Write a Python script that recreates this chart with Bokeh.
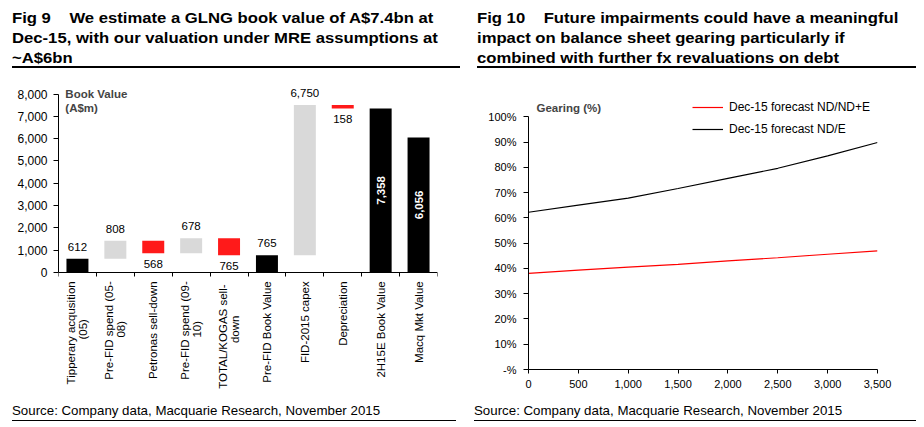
import numpy as np
from bokeh.plotting import figure
from bokeh.models import (Range1d, FixedTicker, Label, ColumnDataSource, Div,
                          Legend, LegendItem, NumeralTickFormatter)
from bokeh.layouts import row, column
from bokeh.embed import file_html
from bokeh.resources import INLINE
from bokeh.core.properties import value

FONT = "Liberation Sans"

# ---------------- Fig 9 data ----------------
categories = ["Tipperary acqusition\n(05)", "Pre-FID spend (05-\n08)", "Petronas sell-down",
              "Pre-FID spend (09-\n10)", "TOTAL/KOGAS  sell-\ndown", "Pre-FID Book Value",
              "FID-2015 capex", "Depreciation", "2H15E Book Value", "Macq Mkt Value"]
step_values = [612, 808, -568, 678, -765, 765, 6750, -158, 7358, 6056]
step_kinds = ["total", "inc", "dec", "inc", "dec", "total", "inc", "dec", "total", "total"]
y_ticks_left = [0, 1000, 2000, 3000, 4000, 5000, 6000, 7000, 8000]

# ---------------- Fig 10 data ----------------
impairment = [0, 500, 1000, 1500, 2000, 2500, 3000, 3500]
nd_nd_e = [38.0, 39.3, 40.5, 41.6, 43.0, 44.2, 45.6, 46.9]
nd_e = [62.2, 65.0, 67.8, 71.6, 75.6, 79.6, 84.5, 89.8]
y_ticks_right = [0, 10, 20, 30, 40, 50, 60, 70, 80, 90, 100]

kind_colors = {"total": "#000000", "inc": "#D9D9D9", "dec": "#FF1A1A"}

# waterfall geometry from the step values
bottoms, tops = [], []
running = 0
for v, k in zip(step_values, step_kinds):
    if k == "total":
        b, t = 0, v
        running = v
    else:
        b, t = running, running + v
        running = t
    bottoms.append(min(b, t))
    tops.append(max(b, t))

n = len(categories)
idx = np.arange(n)
labels = [f"{abs(v):,}" for v in step_values]
colors = [kind_colors[k] for k in step_kinds]
base = y_ticks_left[0]

src = ColumnDataSource(dict(x=idx, bottom=bottoms, top=tops, color=colors))

# frame extends below zero so that the category texts can sit under the axis
p1 = figure(width=462, height=327, x_range=Range1d(-0.5, n - 0.5), y_range=Range1d(-5400, 8300),
            output_backend="svg", toolbar_location=None, margin=0,
            min_border_left=50, min_border_right=33, min_border_top=13, min_border_bottom=9)
p1.vbar(x="x", bottom="bottom", top="top", width=0.58, color="color", line_color=None, source=src)

above_x, above_y, above_t = [], [], []
below_x, below_y, below_t = [], [], []
inside_x, inside_y, inside_t = [], [], []
for i, (k, v) in enumerate(zip(step_kinds, step_values)):
    if k == "total" and v > 5000:
        inside_x.append(i); inside_y.append(tops[i] / 2); inside_t.append(labels[i])
    elif k == "dec":
        below_x.append(i); below_y.append(bottoms[i]); below_t.append(labels[i])
    else:
        above_x.append(i); above_y.append(tops[i]); above_t.append(labels[i])

p1.text(x=above_x, y=above_y, text=above_t, text_align="center", text_baseline="middle",
        y_offset=-12, text_font=value(FONT), text_font_size="11.5px", text_color="#000000")
p1.text(x=below_x, y=below_y, text=below_t, text_align="center", text_baseline="middle",
        y_offset=11, text_font=value(FONT), text_font_size="11.5px", text_color="#000000")
p1.text(x=inside_x, y=inside_y, text=inside_t, text_align="center", text_baseline="middle",
        angle=np.pi / 2, text_font=value(FONT), text_font_size="11.5px", text_font_style="bold",
        text_color="#FFFFFF")

p1.add_layout(Label(x=-0.32, y=8300, text="Book Value\n(A$m)", text_font=FONT, text_font_size="11.5px",
                    text_font_style="bold", text_baseline="top", text_align="left"))

# category labels: vertical, two-line blocks centred on the category
line1 = [c.split("\n")[0] for c in categories]
line2 = [c.split("\n")[1] if "\n" in c else "" for c in categories]
off1 = [-6 if l2 else 0 for l2 in line2]
off2 = [6 for _ in line2]
cat_src = ColumnDataSource(dict(x=idx, y=[base] * n, l1=line1, l2=line2, o1=off1, o2=off2))
p1.text(x="x", y="y", text="l1", x_offset="o1", y_offset=9, source=cat_src,
        angle=np.pi / 2, text_align="right", text_baseline="middle",
        text_font=value(FONT), text_font_size="11.5px", text_color="#000000")
p1.text(x="x", y="y", text="l2", x_offset="o2", y_offset=57, source=cat_src,
        angle=np.pi / 2, text_align="center", text_baseline="middle",
        text_font=value(FONT), text_font_size="11.5px", text_color="#000000")

p1.xgrid.visible = False
p1.ygrid.visible = False
p1.outline_line_color = None

xa = p1.xaxis[0]
xa.fixed_location = base
xa.ticker = FixedTicker(ticks=list(idx), minor_ticks=[i - 0.5 for i in range(n + 1)])
xa.major_label_overrides = {int(i): "" for i in idx}
xa.major_label_text_font_size = "0px"
xa.major_label_standoff = 0
xa.major_tick_line_color = None
xa.minor_tick_out = 4
xa.minor_tick_in = 0
xa.minor_tick_line_color = "#000000"
xa.axis_line_color = "#000000"

ya = p1.yaxis[0]
ya.ticker = FixedTicker(ticks=y_ticks_left)
ya.formatter = NumeralTickFormatter(format="0,0")
ya.bounds = (0, 8000)
ya.major_tick_out = 5
ya.major_tick_in = 0
ya.minor_tick_line_color = None
ya.axis_line_color = "#000000"
ya.major_tick_line_color = "#000000"
ya.major_label_text_font = FONT
ya.major_label_text_font_size = "12px"
ya.major_label_text_color = "#000000"
ya.major_label_standoff = 6

# ---------------- Fig 10 ----------------
p2 = figure(width=446, height=327, x_range=Range1d(0, 3500), y_range=Range1d(0, 108),
            output_backend="svg", toolbar_location=None, margin=0,
            min_border_left=58, min_border_right=39, min_border_top=22, min_border_bottom=32)
r_red = p2.line(impairment, nd_nd_e, line_color="#FF0000", line_width=1.2)
r_blk = p2.line(impairment, nd_e, line_color="#000000", line_width=1.2)

legend = Legend(items=[LegendItem(label="Dec-15 forecast ND/ND+E", renderers=[r_red]),
                       LegendItem(label="Dec-15 forecast ND/E", renderers=[r_blk])],
                location=(164, 230), orientation="vertical", border_line_color=None,
                background_fill_alpha=0, padding=0, margin=0, spacing=2,
                glyph_width=31, glyph_height=20, label_height=20, label_standoff=6,
                label_text_font=FONT, label_text_font_size="12px", label_text_color="#000000")
p2.add_layout(legend)

p2.add_layout(Label(x=80, y=103.3, text="Gearing (%)", text_font=FONT, text_font_size="11.5px",
                    text_font_style="bold", text_baseline="middle", text_align="left"))

p2.xgrid.visible = False
p2.ygrid.visible = False
p2.outline_line_color = None

xb = p2.xaxis[0]
xb.ticker = FixedTicker(ticks=impairment)
xb.formatter = NumeralTickFormatter(format="0,0")
xb.major_tick_out = 4
xb.major_tick_in = 0
xb.minor_tick_line_color = None
xb.axis_line_color = "#000000"
xb.major_tick_line_color = "#000000"
xb.major_label_text_font = FONT
xb.major_label_text_font_size = "11px"
xb.major_label_text_color = "#000000"
xb.major_label_standoff = 6

yb = p2.yaxis[0]
yb.ticker = FixedTicker(ticks=y_ticks_right)
yb.major_label_overrides = {t: (f"{t}%" if t else "-%") for t in y_ticks_right}
yb.bounds = (0, 100)
yb.major_tick_out = 5
yb.major_tick_in = 0
yb.minor_tick_line_color = None
yb.axis_line_color = "#000000"
yb.major_tick_line_color = "#000000"
yb.major_label_text_font = FONT
yb.major_label_text_font_size = "11px"
yb.major_label_text_color = "#000000"
yb.major_label_standoff = 7

TITLE_BOX = ("border-bottom:2.5px solid #000;padding-bottom:1px;height:60px;overflow:visible;")
TITLE_TXT = ("font-family:'Liberation Sans',Arial,sans-serif;font-weight:bold;font-size:15.5px;"
             "line-height:20px;color:#000;white-space:nowrap;display:inline-block;"
             "transform:scaleX(1.075);transform-origin:0 0;")
SRC_STYLE = ("font-family:'Liberation Sans',Arial,sans-serif;font-size:13.3px;color:#000;"
             "line-height:19px;border-bottom:1.5px solid #000;white-space:nowrap;")

t1 = Div(text=f"<div style=\"{TITLE_BOX}width:448px;margin-left:4px;\"><span style=\"{TITLE_TXT}\">Fig 9&nbsp;&nbsp;&nbsp; We estimate a GLNG book value of A$7.4bn at<br>Dec-15, with our valuation under MRE assumptions at<br>~A$6bn</span></div>",
         width=462, height=66, margin=0)
t2 = Div(text=f"<div style=\"{TITLE_BOX}width:439px;margin-left:7px;\"><span style=\"{TITLE_TXT}\">Fig 10&nbsp;&nbsp;&nbsp; Future impairments could have a meaningful<br>impact on balance sheet gearing particularly if<br>combined with further fx revaluations on debt</span></div>",
         width=446, height=66, margin=0)
s1 = Div(text=f"<div style=\"{SRC_STYLE}width:444px;margin-left:4px;\">Source: Company data, Macquarie Research, November 2015</div>",
         width=462, height=22, margin=0)
s2 = Div(text=f"<div style=\"{SRC_STYLE}width:442px;margin-left:4px;\">Source: Company data, Macquarie Research, November 2015</div>",
         width=446, height=22, margin=0)

layout = row(column(t1, p1, s1, spacing=0, margin=0), column(t2, p2, s2, spacing=0, margin=0),
             spacing=0, margin=(8, 0, 0, 8))
open("out.html", "w").write(file_html(layout, INLINE))
